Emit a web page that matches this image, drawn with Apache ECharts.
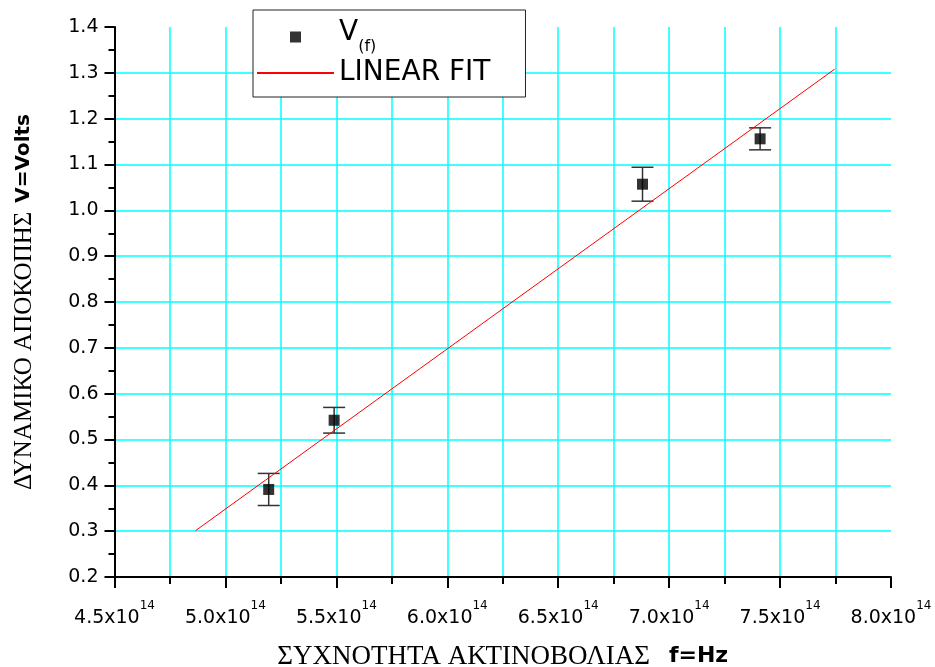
<!DOCTYPE html>
<html>
<head>
<meta charset="utf-8">
<script src="https://cdn.jsdelivr.net/npm/echarts@6/dist/echarts.min.js"></script>
<style>
  html, body { margin: 0; padding: 0; background: #fff; }
  #main { width: 935px; height: 667px; }
</style>
</head>
<body>
<div id="main"></div>
<script>
// μετρήσεις: συχνότητα (Hz), δυναμικό αποκοπής (V), σφάλμα
var freq = [5.195e14, 5.49e14, 6.88e14, 7.41e14];
var volts = [0.391, 0.542, 1.057, 1.156];
var errs = [0.035, 0.028, 0.037, 0.024];

// ευθεία προσαρμογής (άκρα)
var fitX = [4.865e14, 7.746e14];
var fitY = [0.301, 1.308];

var pts = [], bars = [], fit = [];
for (var i = 0; i < freq.length; i++) {
    pts.push([freq[i], volts[i]]);
    bars.push([freq[i], volts[i] - errs[i], volts[i] + errs[i]]);
}
for (var j = 0; j < fitX.length; j++) {
    fit.push([fitX[j], fitY[j]]);
}

var myChart = echarts.init(document.getElementById('main'));

var option = {
    backgroundColor: '#fff',
    animation: false,
    grid: {
        left: 114.5,
        right: 44,
        top: 27,
        bottom: 90,
        outerBoundsMode: 'none'
    },
    //υπόμνημα
    legend: {
        data: [
            { name: 'V(f)', icon: 'path://M0,0L10,0L10,10L0,10Z' },
            { name: 'LINEAR FIT', itemStyle: { opacity: 0 } }
        ],
        orient: 'vertical',
        left: 253,
        top: 10,
        padding: [9, 35, 10, 3],
        itemGap: 4,
        itemWidth: 77,
        itemHeight: 11,
        backgroundColor: '#fff',
        borderColor: '#222',
        borderWidth: 1,
        formatter: function (name) {
            if (name === 'V(f)') return '{a|V}{s|(f)}';
            return '{l|' + name + '}';
        },
        textStyle: {
            color: '#000',
            rich: {
                a: { fontFamily: 'DejaVu Sans', fontSize: 28, lineHeight: 36, verticalAlign: 'top' },
                s: { fontFamily: 'DejaVu Sans', fontSize: 16, lineHeight: 14, verticalAlign: 'bottom' },
                l: { fontFamily: 'DejaVu Sans', fontSize: 28, lineHeight: 30 }
            }
        }
    },
    xAxis: {
        type: 'value',
        min: 4.5e14,
        max: 8.0e14,
        interval: 0.5e14,
        name: '{g|ΣΥΧΝΟΤΗΤΑ ΑΚΤΙΝΟΒΟΛΙΑΣ}{b|f=Hz}',
        nameLocation: 'middle',
        nameGap: 66,
        nameTextStyle: {
            color: '#000',
            rich: {
                g: { fontFamily: 'Liberation Serif', fontSize: 27, padding: [0, 19, 0, 0] },
                b: { fontFamily: 'DejaVu Sans', fontWeight: 'bold', fontSize: 22 }
            }
        },
        axisLine: { onZero: false, lineStyle: { color: '#000', width: 2 } },
        axisTick: { length: 11, lineStyle: { color: '#000', width: 2 } },
        minorTick: { show: true, splitNumber: 2, length: 7, lineStyle: { color: '#000', width: 2 } },
        splitLine: { show: true, showMinLine: false, showMaxLine: false, lineStyle: { color: '#00ffff', width: 1.5 } },
        minorSplitLine: { show: true, lineStyle: { color: '#00ffff', width: 1.5 } },
        axisLabel: {
            margin: 23,
            formatter: function (v) {
                return '{m|' + (v / 1e14).toFixed(1) + 'x10}{p|14}';
            },
            rich: {
                m: { fontFamily: 'DejaVu Sans', fontSize: 19, color: '#000', lineHeight: 28, verticalAlign: 'bottom' },
                p: { fontFamily: 'DejaVu Sans', fontSize: 12, color: '#000', lineHeight: 12, verticalAlign: 'top' }
            }
        }
    },
    yAxis: {
        type: 'value',
        min: 0.2,
        max: 1.4,
        interval: 0.1,
        name: '{g|ΔΥΝΑΜΙΚΟ ΑΠΟΚΟΠΗΣ}{b|V=Volts}',
        nameLocation: 'middle',
        nameGap: 78,
        nameTextStyle: {
            color: '#000',
            rich: {
                g: { fontFamily: 'Liberation Serif', fontSize: 25, padding: [0, 9, 0, 0] },
                b: { fontFamily: 'DejaVu Sans', fontWeight: 'bold', fontSize: 20 }
            }
        },
        axisLine: { onZero: false, lineStyle: { color: '#000', width: 2 } },
        axisTick: { length: 10, lineStyle: { color: '#000', width: 2 } },
        minorTick: { show: true, splitNumber: 2, length: 6, lineStyle: { color: '#000', width: 2 } },
        splitLine: { show: true, showMinLine: false, showMaxLine: false, lineStyle: { color: '#00ffff', width: 1.5 } },
        axisLabel: {
            margin: 16,
            fontFamily: 'DejaVu Sans',
            fontSize: 19,
            color: '#000',
            formatter: function (v) { return v.toFixed(1); }
        }
    },
    series: [
        {
            name: 'errbar',
            type: 'custom',
            data: bars,
            z: 3,
            renderItem: function (params, api) {
                var x = api.value(0);
                var lo = api.coord([x, api.value(1)]);
                var hi = api.coord([x, api.value(2)]);
                var hw = 11;
                var st = { stroke: '#333', lineWidth: 1.5 };
                return {
                    type: 'group',
                    children: [
                        { type: 'line', shape: { x1: lo[0], y1: lo[1], x2: hi[0], y2: hi[1] }, style: st },
                        { type: 'line', shape: { x1: lo[0] - hw, y1: lo[1], x2: lo[0] + hw, y2: lo[1] }, style: st },
                        { type: 'line', shape: { x1: hi[0] - hw, y1: hi[1], x2: hi[0] + hw, y2: hi[1] }, style: st }
                    ]
                };
            }
        },
        {
            name: 'V(f)',
            type: 'scatter',
            data: pts,
            symbol: 'rect',
            symbolSize: 11,
            itemStyle: { color: '#000' },
            z: 4
        },
        {
            name: 'LINEAR FIT',
            type: 'line',
            data: fit,
            symbol: 'none',
            lineStyle: { color: '#ff0000', width: 1 },
            itemStyle: { color: '#ff0000' },
            z: 5
        }
    ]
};

myChart.setOption(option);
</script>
</body>
</html>
